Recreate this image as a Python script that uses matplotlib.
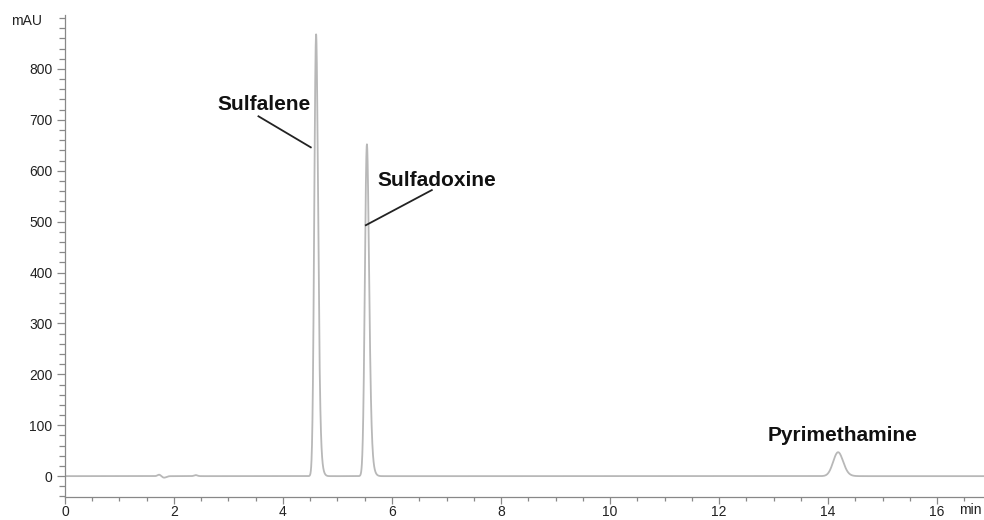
import numpy as np
import matplotlib
matplotlib.use("Agg")
import matplotlib.pyplot as plt
from matplotlib.ticker import MultipleLocator

plt.rcParams['font.family'] = ['Liberation Sans', 'DejaVu Sans']

# Peak table: retention time (min), apex height (mAU), width sigma (min), tail (min)
compounds = ["Sulfalene", "Sulfadoxine", "Pyrimethamine"]
retention = [4.59, 5.52, 14.15]
heights = [868, 652, 47]
sigmas = [0.030, 0.033, 0.085]
tails = [0.025, 0.028, 0.04]

# Small baseline disturbances (injection / void signals)
blip_times = [1.73, 1.82, 2.40]
blip_heights = [3.0, -3.0, 2.0]
blip_widths = [0.03, 0.04, 0.03]

# Label placement: text position and leader line (start -> end)
label_pos = [(3.65, 731), (6.83, 581), (14.26, 80)]
leader_start = [(3.55, 707), (6.73, 562), None]
leader_end = [(4.51, 646), (5.52, 493), None]

t = np.linspace(0, 16.9, 8000)


def peak(t, t0, h, s, tau):
    # Gaussian with exponential tailing, scaled to apex height h
    g = np.exp(-0.5 * ((t - t0) / s) ** 2)
    kernel_t = np.arange(0, 8 * tau, t[1] - t[0])
    k = np.exp(-kernel_t / tau)
    y = np.convolve(g, k)[: len(t)]
    return y / y.max() * h


signal = np.zeros_like(t)
for t0, h, s, tau in zip(retention, heights, sigmas, tails):
    signal += peak(t, t0, h, s, tau)
for t0, h, w in zip(blip_times, blip_heights, blip_widths):
    signal += h * np.exp(-0.5 * ((t - t0) / w) ** 2)

fig = plt.figure(figsize=(9.84, 5.2), dpi=100)
ax = fig.add_axes([0.066, 1 - 497 / 520, 0.934, (497 - 15) / 520])
ax.plot(t, signal, color="#b8b8b8", lw=1.3)

ax.set_xlim(0, 16.86)
ax.set_ylim(-41, 906)
for side in ("top", "right"):
    ax.spines[side].set_visible(False)
for side in ("left", "bottom"):
    ax.spines[side].set_color("#888888")
    ax.spines[side].set_linewidth(0.9)

ax.xaxis.set_major_locator(MultipleLocator(2))
ax.xaxis.set_minor_locator(MultipleLocator(0.5))
ax.yaxis.set_major_locator(MultipleLocator(100))
ax.yaxis.set_minor_locator(MultipleLocator(20))
ax.tick_params(which="major", length=6, width=0.9, color="#888888",
               labelsize=10, labelcolor="#222222")
ax.tick_params(which="minor", length=4, width=0.9, color="#888888")
ax.tick_params(axis="x", which="major", length=5, pad=1)
ax.tick_params(axis="x", which="minor", length=3)
ax.tick_params(axis="y", which="major", pad=3)
ax.set_xticks([0, 2, 4, 6, 8, 10, 12, 14, 16])
ax.set_yticks([0, 100, 200, 300, 400, 500, 600, 700, 800])

fig.text(11 / 984, 1 - 21 / 520, "mAU", fontsize=10, color="#222222",
         ha="left", va="center")
fig.text(970 / 984, 1 - 510 / 520, "min", fontsize=10, color="#222222",
         ha="center", va="center")

for name, pos, s, e in zip(compounds, label_pos, leader_start, leader_end):
    ax.text(pos[0], pos[1], name, fontsize=15, fontweight="bold",
            color="#111111", ha="center", va="center")
    if s is not None:
        ax.plot([s[0], e[0]], [s[1], e[1]], color="#222222", lw=1.3)

fig.savefig("out.png", dpi=100)
